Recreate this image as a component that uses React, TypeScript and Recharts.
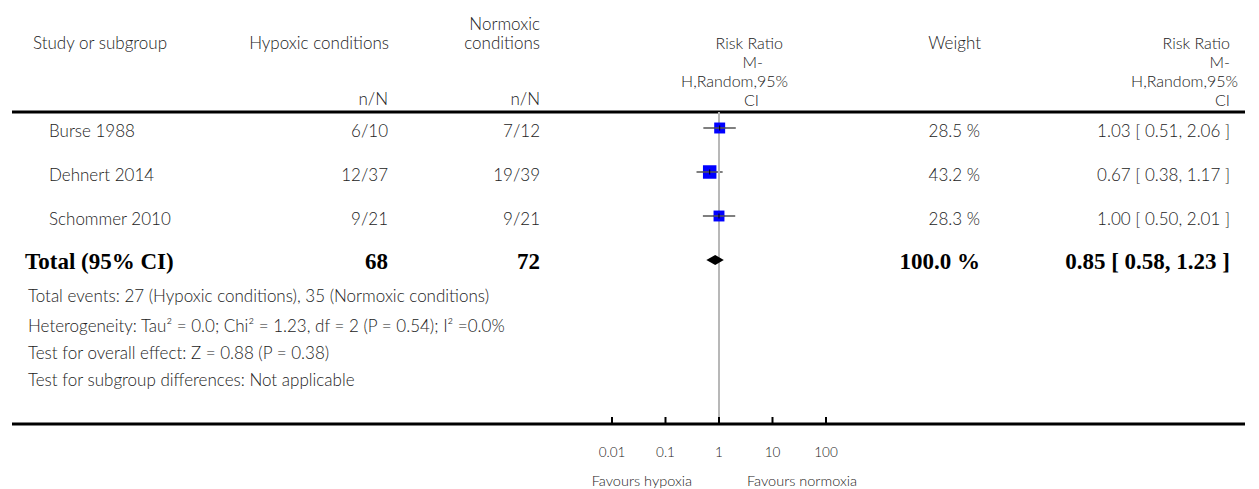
import React from "react";
import {
    ComposedChart,
    Scatter,
    XAxis,
    YAxis,
    ReferenceLine,
    ErrorBar,
} from "recharts";

const studyNames = ["Burse 1988", "Dehnert 2014", "Schommer 2010"];
const hypoxicEvents = [6, 12, 9];
const hypoxicTotals = [10, 37, 21];
const normoxicEvents = [7, 19, 9];
const normoxicTotals = [12, 39, 21];
const riskRatios = [1.03, 0.67, 1.0];
const lowerCI = [0.51, 0.38, 0.5];
const upperCI = [2.06, 1.17, 2.01];
const weights = [28.5, 43.2, 28.3];

const pooledRR = 0.85;
const pooledLow = 0.58;
const pooledHigh = 1.23;
const pooledWeight = 100.0;

const noEffect = 1;
const axisTicks = [0.01, 0.1, 1, 10, 100];
const axisTickLabels = ["0.01", "0.1", "1", "10", "100"];

const footerLines = [
    "Total events: 27 (Hypoxic conditions), 35 (Normoxic conditions)",
    "Heterogeneity: Tau² = 0.0; Chi² = 1.23, df = 2 (P = 0.54); I² =0.0%",
    "Test for overall effect: Z = 0.88 (P = 0.38)",
    "Test for subgroup differences: Not applicable",
];

const W = 1259;
const H = 489;
const TOP = 112;
const AXIS_H = 65;
const yDomain = [0.6364, 7.7273];
const xDomain = [Math.pow(10, -13.215), Math.pow(10, 9.832)];

const LIGHT = { fontFamily: "Lato, 'Open Sans', sans-serif", fontWeight: 300, fontSize: 17, fill: "#222" };
const HEAD2 = { ...LIGHT, fontSize: 16 };
const BOLD = { fontFamily: "'Liberation Serif', 'DejaVu Serif', serif", fontWeight: 700, fontSize: 23, fill: "#000" };

const sum = (a: number[]) => a.reduce((s, v) => s + v, 0);
const ciText = (rr: number, lo: number, hi: number) =>
    `${rr.toFixed(2)} [ ${lo.toFixed(2)}, ${hi.toFixed(2)} ]`;

const studyRows = studyNames.map((name, i) => ({
    name,
    x: riskRatios[i],
    y: i + 1,
    err: [riskRatios[i] - lowerCI[i], upperCI[i] - riskRatios[i]],
    weight: weights[i],
    hyp: `${hypoxicEvents[i]}/${hypoxicTotals[i]}`,
    nor: `${normoxicEvents[i]}/${normoxicTotals[i]}`,
    wt: `${weights[i].toFixed(1)} %`,
    ci: ciText(riskRatios[i], lowerCI[i], upperCI[i]),
    bold: false,
}));

const totalY = studyNames.length + 1;
const totalRow = {
    name: "Total (95% CI)",
    x: pooledRR,
    y: totalY,
    hyp: String(sum(hypoxicTotals)),
    nor: String(sum(normoxicTotals)),
    wt: `${pooledWeight.toFixed(1)} %`,
    ci: ciText(pooledRR, pooledLow, pooledHigh),
    bold: true,
};

// left tip, centre, right tip of the pooled diamond
const diamondPoints = [
    { x: pooledLow, y: totalY },
    { x: pooledRR, y: totalY },
    { x: pooledHigh, y: totalY },
];

const StudyMarker = (props: any) => {
    const { cx, cy, payload } = props;
    const s = 2.05 * Math.sqrt(payload.weight);
    return (
        <g>
            <rect x={cx - s / 2} y={cy - s / 2} width={s} height={s} fill="#0000ff" />
            <line x1={cx - s / 2} x2={cx + s / 2} y1={cy} y2={cy} stroke="#555" strokeWidth={1.5} />
            <line x1={cx} x2={cx} y1={cy - 2.5} y2={cy + 2.5} stroke="#000" strokeWidth={1} />
        </g>
    );
};

const Diamond = (props: any) => {
    const pts = props.points || [];
    if (pts.length < 3) return null;
    const [l, c, r] = pts;
    const h = 5;
    return (
        <polygon
            points={`${l.x},${l.y} ${c.x},${c.y - h} ${r.x},${r.y} ${c.x},${c.y + h}`}
            fill="#000"
            stroke="none"
        />
    );
};

const Nothing = () => <g />;

// line of no effect, from the top rule down to the axis
const NoEffectLine = (props: any) => {
    const { cx, cy } = props;
    return <line x1={cx} x2={cx} y1={cy} y2={H - AXIS_H} stroke="#b8b8b8" strokeWidth={2} />;
};

const RowText = (props: any) => {
    const { cy, payload } = props;
    const st = payload.bold ? BOLD : LIGHT;
    const y = cy + (payload.bold ? 2 : 3);
    return (
        <g>
            <text x={payload.bold ? 25 : 49} y={y} dominantBaseline="central" {...st}>{payload.name}</text>
            <text x={388} y={y} textAnchor="end" dominantBaseline="central" {...st}>{payload.hyp}</text>
            <text x={540} y={y} textAnchor="end" dominantBaseline="central" {...st}>{payload.nor}</text>
            <text x={980} y={y} textAnchor="end" dominantBaseline="central" {...st}>{payload.wt}</text>
            <text x={1230} y={y} textAnchor="end" dominantBaseline="central" {...st}>{payload.ci}</text>
        </g>
    );
};

const ForestTick = (props: any) => {
    const { x, y, payload, index } = props;
    const st = { ...LIGHT, fontSize: 13.5 };
    const fav = { ...LIGHT, fontSize: 14.5 };
    return (
        <g>
            <line x1={x} x2={x} y1={y - 7} y2={y} stroke="#000" strokeWidth={2} />
            <text x={x} y={y + 28} textAnchor="middle" dominantBaseline="central" {...st}>
                {axisTickLabels[index]}
            </text>
            {payload.value === noEffect && (
                <>
                    <text x={x - 27} y={y + 56} textAnchor="end" dominantBaseline="central" {...fav}>
                        Favours hypoxia
                    </text>
                    <text x={x + 28} y={y + 56} textAnchor="start" dominantBaseline="central" {...fav}>
                        Favours normoxia
                    </text>
                </>
            )}
        </g>
    );
};

const Header = () => (
    <svg width={W} height={H} style={{ position: "absolute", left: 0, top: 0, pointerEvents: "none" }}>
        <g dominantBaseline="central">
            <text x={33} y={42} {...LIGHT}>Study or subgroup</text>
            <text x={389} y={42} textAnchor="end" {...LIGHT}>Hypoxic conditions</text>
            <text x={388} y={98} textAnchor="end" {...LIGHT}>n/N</text>
            <text x={540} y={23} textAnchor="end" {...LIGHT}>Normoxic</text>
            <text x={540} y={42} textAnchor="end" {...LIGHT}>conditions</text>
            <text x={540} y={98} textAnchor="end" {...LIGHT}>n/N</text>
            <text x={783} y={42} textAnchor="end" {...HEAD2}>Risk Ratio</text>
            <text x={763} y={61} textAnchor="end" {...HEAD2}>M-</text>
            <text x={788} y={80} textAnchor="end" {...HEAD2}>H,Random,95%</text>
            <text x={759} y={99} textAnchor="end" {...HEAD2}>CI</text>
            <text x={981} y={42} textAnchor="end" {...LIGHT}>Weight</text>
            <text x={1230} y={42} textAnchor="end" {...HEAD2}>Risk Ratio</text>
            <text x={1230} y={61} textAnchor="end" {...HEAD2}>M-</text>
            <text x={1238} y={80} textAnchor="end" {...HEAD2}>H,Random,95%</text>
            <text x={1230} y={99} textAnchor="end" {...HEAD2}>CI</text>
            {footerLines.map((line, i) => (
                <text key={i} x={28} y={[295, 325, 352, 379][i]} {...LIGHT}>{line}</text>
            ))}
        </g>
    </svg>
);

const App = () => {
    return (
        <div style={{ position: "absolute", left: 0, top: 0, width: W, height: H, background: "#fff" }}>
            <ComposedChart
                width={W}
                height={H}
                margin={{ top: TOP, right: 14, left: 12, bottom: 0 }}
            >
                <XAxis
                    dataKey="x"
                    type="number"
                    scale="log"
                    domain={xDomain}
                    allowDataOverflow
                    ticks={axisTicks}
                    interval={0}
                    height={AXIS_H}
                    tickSize={0}
                    tickMargin={0}
                    tickLine={false}
                    tick={<ForestTick />}
                    axisLine={{ stroke: "#000", strokeWidth: 3 }}
                />
                <YAxis
                    dataKey="y"
                    type="number"
                    domain={yDomain}
                    reversed
                    allowDataOverflow
                    hide
                />
                <ReferenceLine y={yDomain[0]} stroke="#000" strokeWidth={3} ifOverflow="visible" />
                <Scatter
                    data={[{ x: noEffect, y: yDomain[0] }]}
                    shape={<NoEffectLine />}
                    isAnimationActive={false}
                />
                <Scatter
                    data={[...studyRows, totalRow]}
                    shape={<RowText />}
                    isAnimationActive={false}
                />
                <Scatter
                    data={diamondPoints}
                    line={<Diamond />}
                    lineType="joint"
                    shape={<Nothing />}
                    isAnimationActive={false}
                />
                <Scatter data={studyRows} shape={<StudyMarker />} isAnimationActive={false}>
                    <ErrorBar dataKey="err" direction="x" width={0} stroke="#555" strokeWidth={1.5} />
                </Scatter>
            </ComposedChart>
            <Header />
        </div>
    );
};

export default App;
